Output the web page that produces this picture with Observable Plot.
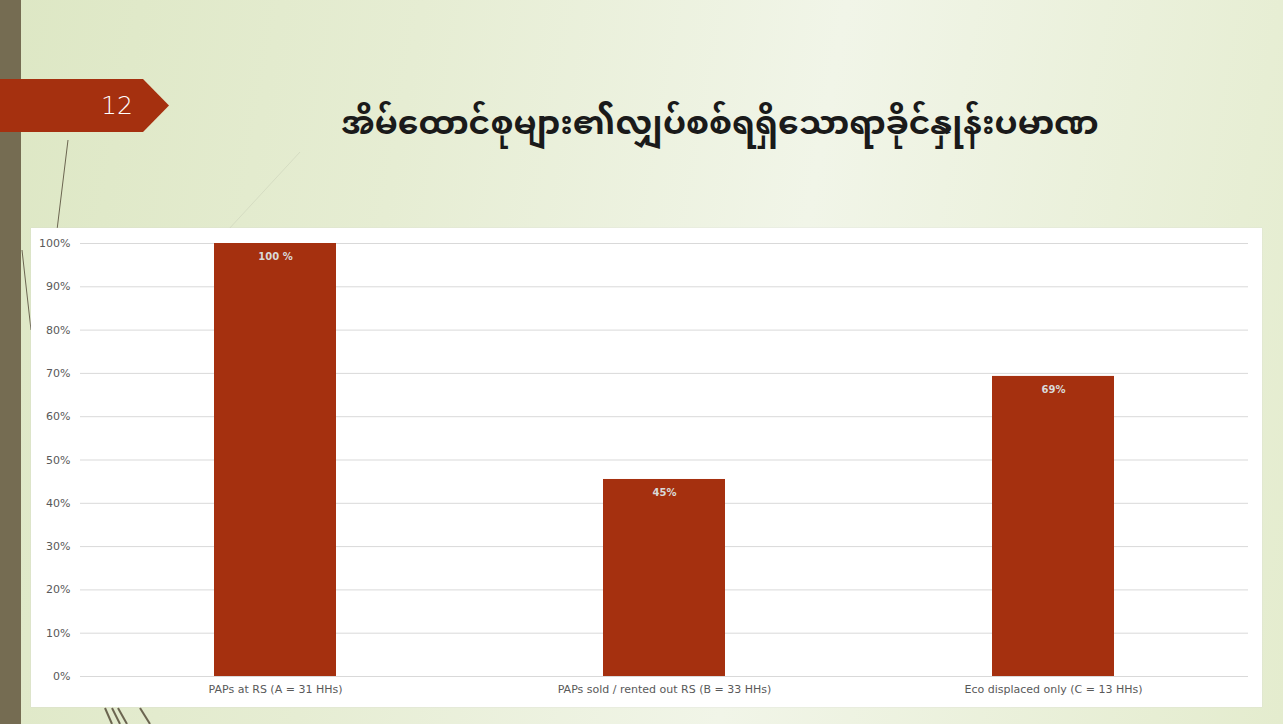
<!DOCTYPE html>
<html>
<head>
<meta charset="utf-8">
<script src="https://cdn.jsdelivr.net/npm/d3@7"></script>
<script src="https://cdn.jsdelivr.net/npm/@observablehq/plot@0.6"></script>
<style>
  html, body { margin: 0; padding: 0; }
  body {
    width: 1283px; height: 724px; overflow: hidden; position: relative;
    background: linear-gradient(100deg, #dde7c4 0%, #e6edd3 30%, #f1f5e8 60%, #e4ecce 100%);
    font-family: "DejaVu Sans", sans-serif;
  }
  #stripe { position: absolute; left: 0; top: 0; width: 21px; height: 724px; background: #756c52; }
  #arrow { position: absolute; left: 0; top: 79px; width: 169px; height: 53px; background: #a5300f;
    clip-path: polygon(0 0, 143px 0, 169px 26.5px, 143px 53px, 0 53px); }
  #num { position: absolute; left: 101px; top: 79px; height: 53px; line-height: 53px; color: #fff;
    font-family: "DejaVu Sans", sans-serif; font-weight: 300; font-size: 25px; }
  #title { position: absolute; left: 290px; top: 90px; width: 860px; text-align: center;
    font-size: 33px; font-weight: bold; color: #1a1a1a; font-family: "Noto Sans Myanmar", "Noto Sans", sans-serif; }
  #deco { position: absolute; left: 0; top: 0; }
  #box { position: absolute; left: 31px; top: 228px; width: 1231px; height: 479px; background: #fff;
    box-shadow: 0 0 1px #ccc; }
</style>
</head>
<body>
<svg id="deco" width="1283" height="724">
  <line x1="68" y1="140" x2="57" y2="230" stroke="#6b6550" stroke-width="1"/>
  <line x1="300" y1="152" x2="228" y2="230" stroke="#d5dcc2" stroke-width="1"/>
  <line x1="105" y1="708" x2="112" y2="724" stroke="#6b6550" stroke-width="2"/>
  <line x1="112" y1="708" x2="120" y2="724" stroke="#6b6550" stroke-width="2"/>
  <line x1="118" y1="708" x2="127" y2="724" stroke="#6b6550" stroke-width="2"/>
  <line x1="140" y1="708" x2="150" y2="724" stroke="#6b6550" stroke-width="2"/>
  <line x1="22" y1="250" x2="31" y2="330" stroke="#6b6550" stroke-width="1"/>
</svg>
<div id="stripe"></div>
<div id="arrow"></div>
<div id="num">12</div>
<div id="title">အိမ်ထောင်စုများ၏လျှပ်စစ်ရရှိသောရာခိုင်နှုန်းပမာဏ</div>
<div id="box"></div>
<script>
const categories = ["PAPs at RS (A = 31 HHs)", "PAPs sold / rented out RS (B = 33 HHs)", "Eco displaced only (C = 13 HHs)"];
const values = [100, 45.5, 69.3];
const valueLabels = ["100 %", "45%", "69%"];
const yTicks = [0, 10, 20, 30, 40, 50, 60, 70, 80, 90, 100];

const data = categories.map((c, i) => ({category: c, value: values[i], label: valueLabels[i]}));

const chart = Plot.plot({
  width: 1231,
  height: 479,
  marginLeft: 49,
  marginRight: 14,
  marginTop: 15,
  marginBottom: 31,
  style: {background: "transparent", fontFamily: "DejaVu Sans, sans-serif", fontSize: "11px", color: "#595959"},
  x: {domain: categories, label: null, paddingInner: 0.686, paddingOuter: 0.343},
  y: {domain: [0, 100], label: null},
  marks: [
    Plot.gridY(yTicks, {stroke: "#d9d9d9", strokeOpacity: 1}),
    Plot.barY(data, {x: "category", y: "value", fill: "#a5300f"}),
    Plot.text(data, {x: "category", y: "value", text: "label", dy: 13, fill: "#d9d9d9", fontWeight: "bold", fontSize: 10}),
    Plot.axisX({tickSize: 0, tickPadding: 9, fontSize: 11, fill: "#595959"}),
    Plot.axisY({ticks: yTicks, tickFormat: d => d + "%", tickSize: 0, tickPadding: 10, fill: "#595959"})
  ]
});
document.getElementById("box").appendChild(chart);
</script>
</body>
</html>
